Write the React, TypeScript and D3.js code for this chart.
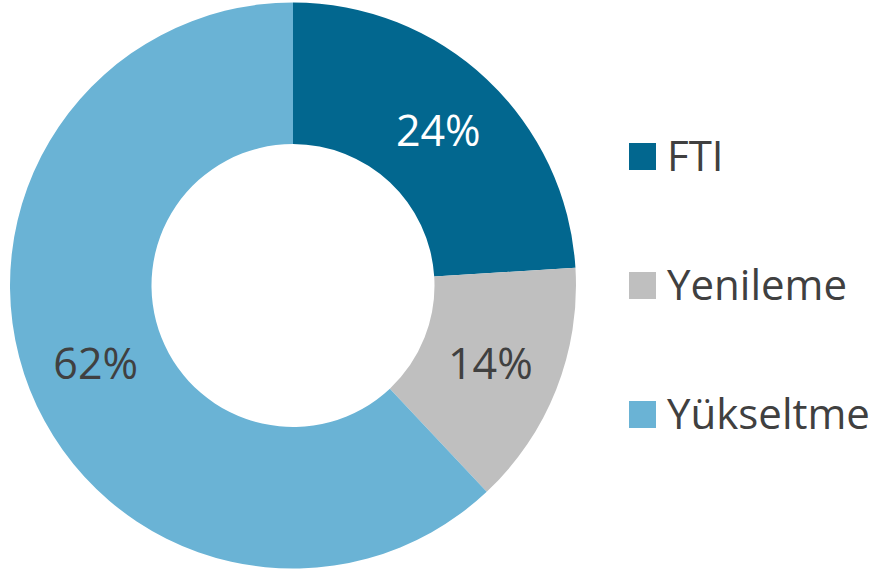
import React from "react";
import * as d3 from "d3";

const categories = ["FTI", "Yenileme", "Yükseltme"];
const values = [24, 14, 62];
const labels = ["24%", "14%", "62%"];
const colors = ["#02678F", "#BFBFBF", "#6AB3D5"];
const labelColors = ["#FFFFFF", "#404040", "#404040"];

const W = 870;
const H = 572;
const cx = 293;
const cy = 285.5;
const outerR = 283;
const innerR = 141.5;

export default function App() {
  const pie = d3.pie<number>().sort(null).value((d) => d);
  const arcs = pie(values);
  const arc = d3.arc<d3.PieArcDatum<number>>().innerRadius(innerR).outerRadius(outerR);
  const legendY = d3.scalePoint<string>().domain(categories).range([156.5, 414.5]);

  return (
    <svg
      width={W}
      height={H}
      style={{ position: "absolute", left: 0, top: 0, background: "#fff" }}
      fontFamily="'Open Sans', sans-serif"
    >
      <g transform={`translate(${cx},${cy})`}>
        {arcs.map((a, i) => (
          <path key={i} d={arc(a) || ""} fill={colors[i]} />
        ))}
        {arcs.map((a, i) => {
          const [x, y] = arc.centroid(a);
          return (
            <text
              key={"l" + i}
              x={x}
              y={y + 15.5}
              textAnchor="middle"
              fontSize={43}
              fill={labelColors[i]}
            >
              {labels[i]}
            </text>
          );
        })}
      </g>
      {categories.map((c, i) => {
        const y = legendY(c)!;
        return (
          <g key={"lg" + i}>
            <rect x={629} y={y - 13.5} width={27} height={27} fill={colors[i]} />
            <text x={667} y={y + 14} fontSize={42} fill="#404040">
              {c}
            </text>
          </g>
        );
      })}
    </svg>
  );
}
